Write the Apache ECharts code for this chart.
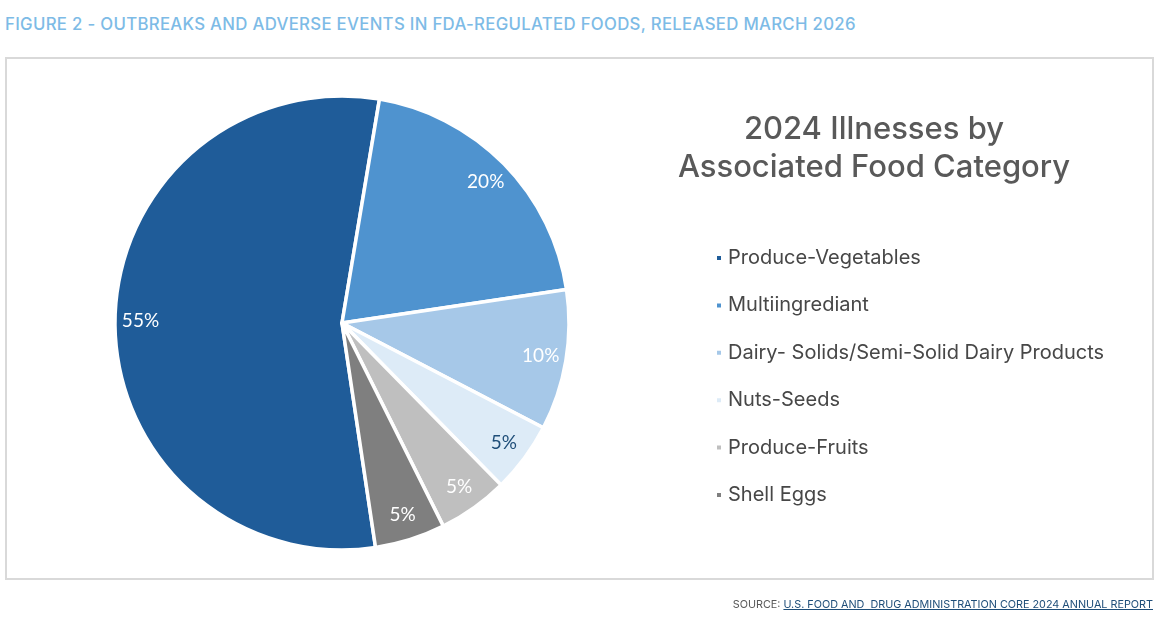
<!DOCTYPE html>
<html>
<head>
<meta charset="utf-8">
<script src="https://cdn.jsdelivr.net/npm/echarts@6/dist/echarts.min.js"></script>
<style>
  html, body { margin: 0; padding: 0; background: #ffffff; }
  body { width: 1161px; height: 619px; position: relative; overflow: hidden; font-family: Inter, 'Noto Sans', sans-serif; }
  #header { position: absolute; left: 5px; top: 14px; font-size: 16.8px; font-weight: 500; color: #7dbbe6; letter-spacing: 0.3px; white-space: nowrap; }
  #box { position: absolute; left: 5px; top: 57px; width: 1145px; height: 519px; border: 2px solid #d9d9d9; }
  #chart { position: absolute; left: 0; top: 0; width: 1161px; height: 619px; }
  #source { position: absolute; right: 8px; top: 598px; font-size: 10.8px; color: #595959; white-space: nowrap; }
  #source a { color: #1f4e79; text-decoration: underline; }
</style>
</head>
<body>
<div id="header">FIGURE 2 - OUTBREAKS AND ADVERSE EVENTS IN FDA-REGULATED FOODS, RELEASED MARCH 2026</div>
<div id="box"></div>
<div id="chart"></div>
<div id="source">SOURCE: <a>U.S. FOOD AND&nbsp; DRUG ADMINISTRATION CORE 2024 ANNUAL REPORT</a></div>
<script>
const categories = ['Produce-Vegetables', 'Multiingrediant', 'Dairy- Solids/Semi-Solid Dairy Products', 'Nuts-Seeds', 'Produce-Fruits', 'Shell Eggs'];
const shares = [55, 20, 10, 5, 5, 5];
const sliceColors = ['#1f5c99', '#4f93cf', '#a6c8e8', '#ddebf7', '#bfbfbf', '#7f7f7f'];
const labelColors = ['#ffffff', '#ffffff', '#ffffff', '#1f4e79', '#ffffff', '#ffffff'];

const chart = echarts.init(document.getElementById('chart'));

const pieData = categories.map((name, i) => ({
  name: name,
  value: shares[i],
  itemStyle: { color: sliceColors[i] }
}));

// transparent ring only used to put the percent labels near the rim
const labelData = categories.map((name, i) => ({
  name: name,
  value: shares[i],
  label: { color: labelColors[i] }
}));

chart.setOption({
  animation: false,
  title: {
    text: '2024 Illnesses by\nAssociated Food Category',
    left: 869,
    top: 106,
    textAlign: 'center',
    textStyle: {
      fontFamily: 'Inter',
      fontSize: 31,
      fontWeight: 500,
      color: '#595959',
      lineHeight: 38
    }
  },
  legend: {
    orient: 'vertical',
    left: 710,
    top: 243,
    icon: 'rect',
    itemWidth: 6,
    itemHeight: 6,
    itemGap: 27.4,
    data: categories,
    textStyle: {
      fontFamily: 'Inter',
      fontSize: 20,
      color: '#474747',
      lineHeight: 20,
      padding: [0, 0, 0, 1]
    }
  },
  series: [
    {
      name: 'Illnesses',
      type: 'pie',
      center: [342, 323],
      radius: [0, 227],
      startAngle: 278.5,
      clockwise: true,
      silent: true,
      label: { show: false },
      labelLine: { show: false },
      itemStyle: { borderColor: '#ffffff', borderWidth: 3.5 },
      data: pieData
    },
    {
      name: 'Labels',
      type: 'pie',
      center: [342, 323],
      radius: [170, 227],
      startAngle: 278.5,
      clockwise: true,
      silent: true,
      legendHoverLink: false,
      itemStyle: { color: 'rgba(0,0,0,0)' },
      label: {
        show: true,
        position: 'inside',
        formatter: '{c}%',
        fontFamily: 'Lato',
        fontSize: 19,
        textBorderWidth: 0
      },
      labelLine: { show: false },
      data: labelData
    }
  ]
});
</script>
</body>
</html>
